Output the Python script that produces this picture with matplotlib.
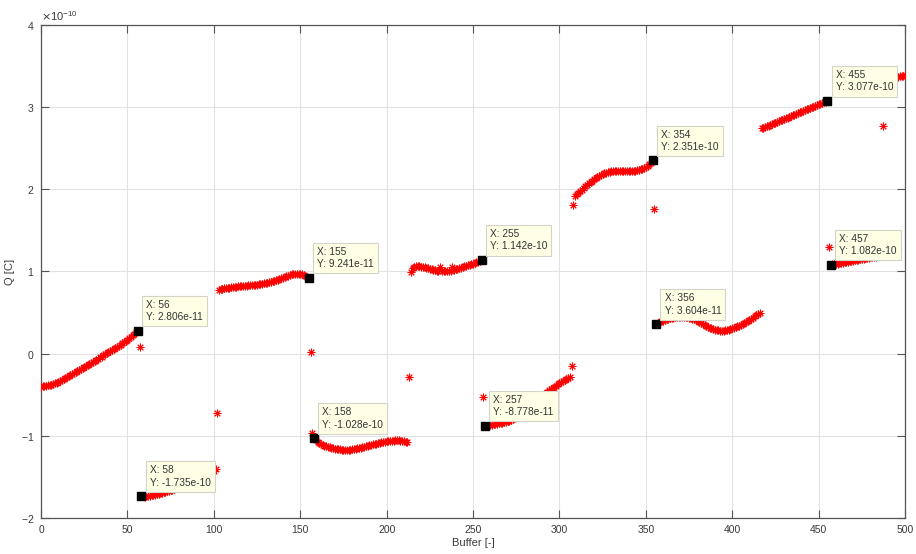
import numpy as np
import matplotlib
matplotlib.use("Agg")
import matplotlib.pyplot as plt
from matplotlib.ticker import ScalarFormatter

plt.rcParams['font.family'] = ['Liberation Sans', 'DejaVu Sans']

# charge per buffer sample, in units of 1e-10 C; each segment starts at the given buffer index
seg_a_start = 0
seg_a = [-0.400, -0.398, -0.395, -0.391, -0.387, -0.382, -0.376, -0.369, -0.361, -0.352,
         -0.342, -0.331, -0.320, -0.309, -0.297, -0.285, -0.273, -0.261, -0.248, -0.235,
         -0.222, -0.210, -0.197, -0.185, -0.172, -0.160, -0.147, -0.135, -0.122, -0.110,
         -0.097, -0.085, -0.072, -0.060, -0.047, -0.035, -0.022, -0.010, 0.003, 0.016,
         0.029, 0.043, 0.056, 0.070, 0.083, 0.097, 0.111, 0.125, 0.140, 0.155,
         0.170, 0.186, 0.203, 0.221, 0.240, 0.260, 0.2806]

seg_b_start = 58
seg_b = [-1.735, -1.738, -1.739, -1.738, -1.735, -1.731, -1.726, -1.721, -1.715, -1.709,
         -1.703, -1.697, -1.691, -1.685, -1.679, -1.673, -1.667, -1.661, -1.655, -1.648,
         -1.641, -1.634, -1.627, -1.619, -1.611, -1.603, -1.595, -1.586, -1.577, -1.568,
         -1.558, -1.548, -1.538, -1.528, -1.518, -1.507, -1.496, -1.485, -1.474, -1.463,
         -1.452, -1.440, -1.425, -1.405]

seg_c_start = 103
seg_c = [0.780, 0.785, 0.790, 0.794, 0.798, 0.801, 0.804, 0.807, 0.810, 0.813,
         0.816, 0.818, 0.820, 0.822, 0.825, 0.827, 0.829, 0.831, 0.833, 0.835,
         0.837, 0.839, 0.841, 0.844, 0.847, 0.850, 0.854, 0.858, 0.863, 0.868,
         0.874, 0.880, 0.887, 0.894, 0.901, 0.908, 0.915, 0.922, 0.932, 0.941,
         0.950, 0.958, 0.965, 0.970, 0.973, 0.974, 0.973, 0.970, 0.964, 0.956,
         0.946, 0.935, 0.9241]

seg_d_start = 158
seg_d = [-1.028, -1.055, -1.075, -1.090, -1.102, -1.112, -1.121, -1.129, -1.136, -1.142,
         -1.148, -1.153, -1.157, -1.161, -1.164, -1.166, -1.168, -1.169, -1.170, -1.170,
         -1.169, -1.167, -1.165, -1.162, -1.158, -1.154, -1.150, -1.145, -1.140, -1.135,
         -1.129, -1.123, -1.117, -1.111, -1.105, -1.099, -1.094, -1.089, -1.084, -1.079,
         -1.075, -1.071, -1.068, -1.065, -1.062, -1.060, -1.058, -1.057, -1.056, -1.057,
         -1.059, -1.062, -1.066, -1.071, -1.077]

seg_e_start = 214
seg_e = [0.996, 1.040, 1.055, 1.062, 1.064, 1.063, 1.060, 1.056, 1.051, 1.045,
         1.039, 1.033, 1.027, 1.021, 1.016, 1.011, 1.008, 1.050, 1.004, 1.003,
         1.003, 1.004, 1.006, 1.010, 1.060, 1.020, 1.026, 1.033, 1.040, 1.047,
         1.054, 1.061, 1.068, 1.075, 1.082, 1.089, 1.096, 1.104, 1.112, 1.120,
         1.131, 1.142]

seg_f_start = 257
seg_f = [-0.8778, -0.875, -0.872, -0.869, -0.866, -0.862, -0.858, -0.854, -0.850, -0.845,
         -0.840, -0.835, -0.830, -0.824, -0.816, -0.807, -0.797, -0.786, -0.774, -0.761,
         -0.747, -0.732, -0.716, -0.699, -0.682, -0.664, -0.646, -0.627, -0.608, -0.589,
         -0.570, -0.551, -0.533, -0.515, -0.497, -0.480, -0.463, -0.447, -0.431, -0.416,
         -0.402, -0.388, -0.375, -0.362, -0.350, -0.338, -0.326, -0.314, -0.302, -0.290]

seg_g_start = 309
seg_g = [1.920, 1.940, 1.959, 1.978, 1.997, 2.016, 2.035, 2.053, 2.071, 2.089,
         2.106, 2.122, 2.137, 2.151, 2.164, 2.176, 2.187, 2.196, 2.204, 2.211,
         2.216, 2.220, 2.223, 2.225, 2.226, 2.226, 2.226, 2.225, 2.224, 2.223,
         2.222, 2.221, 2.221, 2.222, 2.224, 2.227, 2.231, 2.236, 2.243, 2.251,
         2.261, 2.273, 2.287, 2.303, 2.322, 2.351]

seg_h_start = 356
seg_h = [0.3604, 0.372, 0.383, 0.393, 0.402, 0.410, 0.417, 0.423, 0.429, 0.434,
         0.438, 0.442, 0.445, 0.447, 0.448, 0.448, 0.447, 0.445, 0.442, 0.437,
         0.431, 0.424, 0.416, 0.407, 0.397, 0.386, 0.374, 0.362, 0.350, 0.338,
         0.327, 0.316, 0.306, 0.298, 0.291, 0.286, 0.282, 0.280, 0.280, 0.281,
         0.284, 0.288, 0.293, 0.299, 0.306, 0.314, 0.322, 0.331, 0.340, 0.350,
         0.361, 0.373, 0.385, 0.397, 0.410, 0.424, 0.438, 0.452, 0.466, 0.480,
         0.495]

seg_i_start = 417
seg_i = [2.740, 2.749, 2.758, 2.767, 2.775, 2.784, 2.793, 2.802, 2.811, 2.820,
         2.829, 2.838, 2.847, 2.855, 2.864, 2.873, 2.882, 2.891, 2.900, 2.909,
         2.917, 2.926, 2.935, 2.944, 2.953, 2.962, 2.971, 2.980, 2.988, 2.997,
         3.006, 3.015, 3.024, 3.033, 3.042, 3.050, 3.059, 3.068, 3.077]

seg_j_start = 457
seg_j = [1.082, 1.085, 1.088, 1.091, 1.094, 1.098, 1.102, 1.106, 1.110, 1.114,
         1.118, 1.122, 1.126, 1.130, 1.134, 1.138, 1.142, 1.146, 1.150, 1.154,
         1.158, 1.162, 1.166, 1.170, 1.174, 1.178, 1.182, 1.186, 1.190, 1.194]

seg_k_start = 488
seg_k = [3.338, 3.343, 3.348, 3.352, 3.356, 3.360, 3.364, 3.368, 3.372, 3.376,
         3.380, 3.384, 3.388]

# single samples caught in the middle of a jump
jump_x = [57, 102, 156, 157, 213, 256, 307, 308, 355, 456, 487]
jump_q = [0.08, -0.72, 0.02, -0.96, -0.28, -0.53, -0.15, 1.81, 1.755, 1.30, 2.77]

# buffer indices with a data cursor
tip_x = [56, 58, 155, 158, 255, 257, 354, 356, 455, 457]

segments = [(seg_a_start, seg_a), (seg_b_start, seg_b), (seg_c_start, seg_c),
            (seg_d_start, seg_d), (seg_e_start, seg_e), (seg_f_start, seg_f),
            (seg_g_start, seg_g), (seg_h_start, seg_h), (seg_i_start, seg_i),
            (seg_j_start, seg_j), (seg_k_start, seg_k)]

xs, qs = [], []
for start, vals in segments:
    xs.extend(range(start, start + len(vals)))
    qs.extend(vals)
xs.extend(jump_x)
qs.extend(jump_q)
xs = np.array(xs)
qs = np.array(qs) * 1e-10
order = np.argsort(xs, kind='stable')
xs, qs = xs[order], qs[order]
assert len(np.unique(xs)) == len(xs)

fig = plt.figure(figsize=(9.16, 5.54), dpi=100)
ax = fig.add_axes([0.0448, 0.065, 0.9432, 0.89])

ax.plot(xs, qs, ls='none', marker=(8, 2, 0), ms=5.5, mew=0.7,
        color='#ff0000', zorder=3)

ax.set_xlim(0, 500)
ax.set_ylim(-2e-10, 4e-10)
ax.set_xticks(np.arange(0, 501, 50))
ax.set_yticks(np.arange(-2e-10, 4.01e-10, 1e-10))

fmt = ScalarFormatter(useMathText=True)
fmt.set_powerlimits((0, 0))
ax.yaxis.set_major_formatter(fmt)
ax.yaxis.get_offset_text().set_fontsize(8)
ax.yaxis.get_offset_text().set_color('#404040')

ax.grid(True, color='#e2e2e2', lw=0.8, zorder=0)
ax.set_axisbelow(True)
ax.tick_params(direction='in', length=6, width=0.8, colors='#555555',
               labelcolor='#3a3a3a', labelsize=7.5, top=True, right=True, pad=5)
for sp in ax.spines.values():
    sp.set_color('#555555')
    sp.set_linewidth(0.9)

ax.set_xlabel('Buffer [-]', fontsize=8, color='#3a3a3a', labelpad=2)
ax.set_ylabel('Q [C]', fontsize=8, color='#3a3a3a', labelpad=4)

# data cursors: black square plus a small yellow label
for tx in tip_x:
    ty = qs[xs == tx][0]
    ax.plot(tx, ty, ls='none', marker='s', ms=6, color='black', zorder=5)
    ax.annotate(f'X: {tx}\nY: {ty:.4g}', xy=(tx, ty), xytext=(6, 6),
                textcoords='offset points', ha='left', va='bottom',
                fontsize=7.3, linespacing=1.3, color='#333333', zorder=6,
                bbox=dict(boxstyle='square,pad=0.4', fc='#ffffe6', ec='#d4d4c8', lw=0.8))

fig.savefig('out.png', dpi=100)
